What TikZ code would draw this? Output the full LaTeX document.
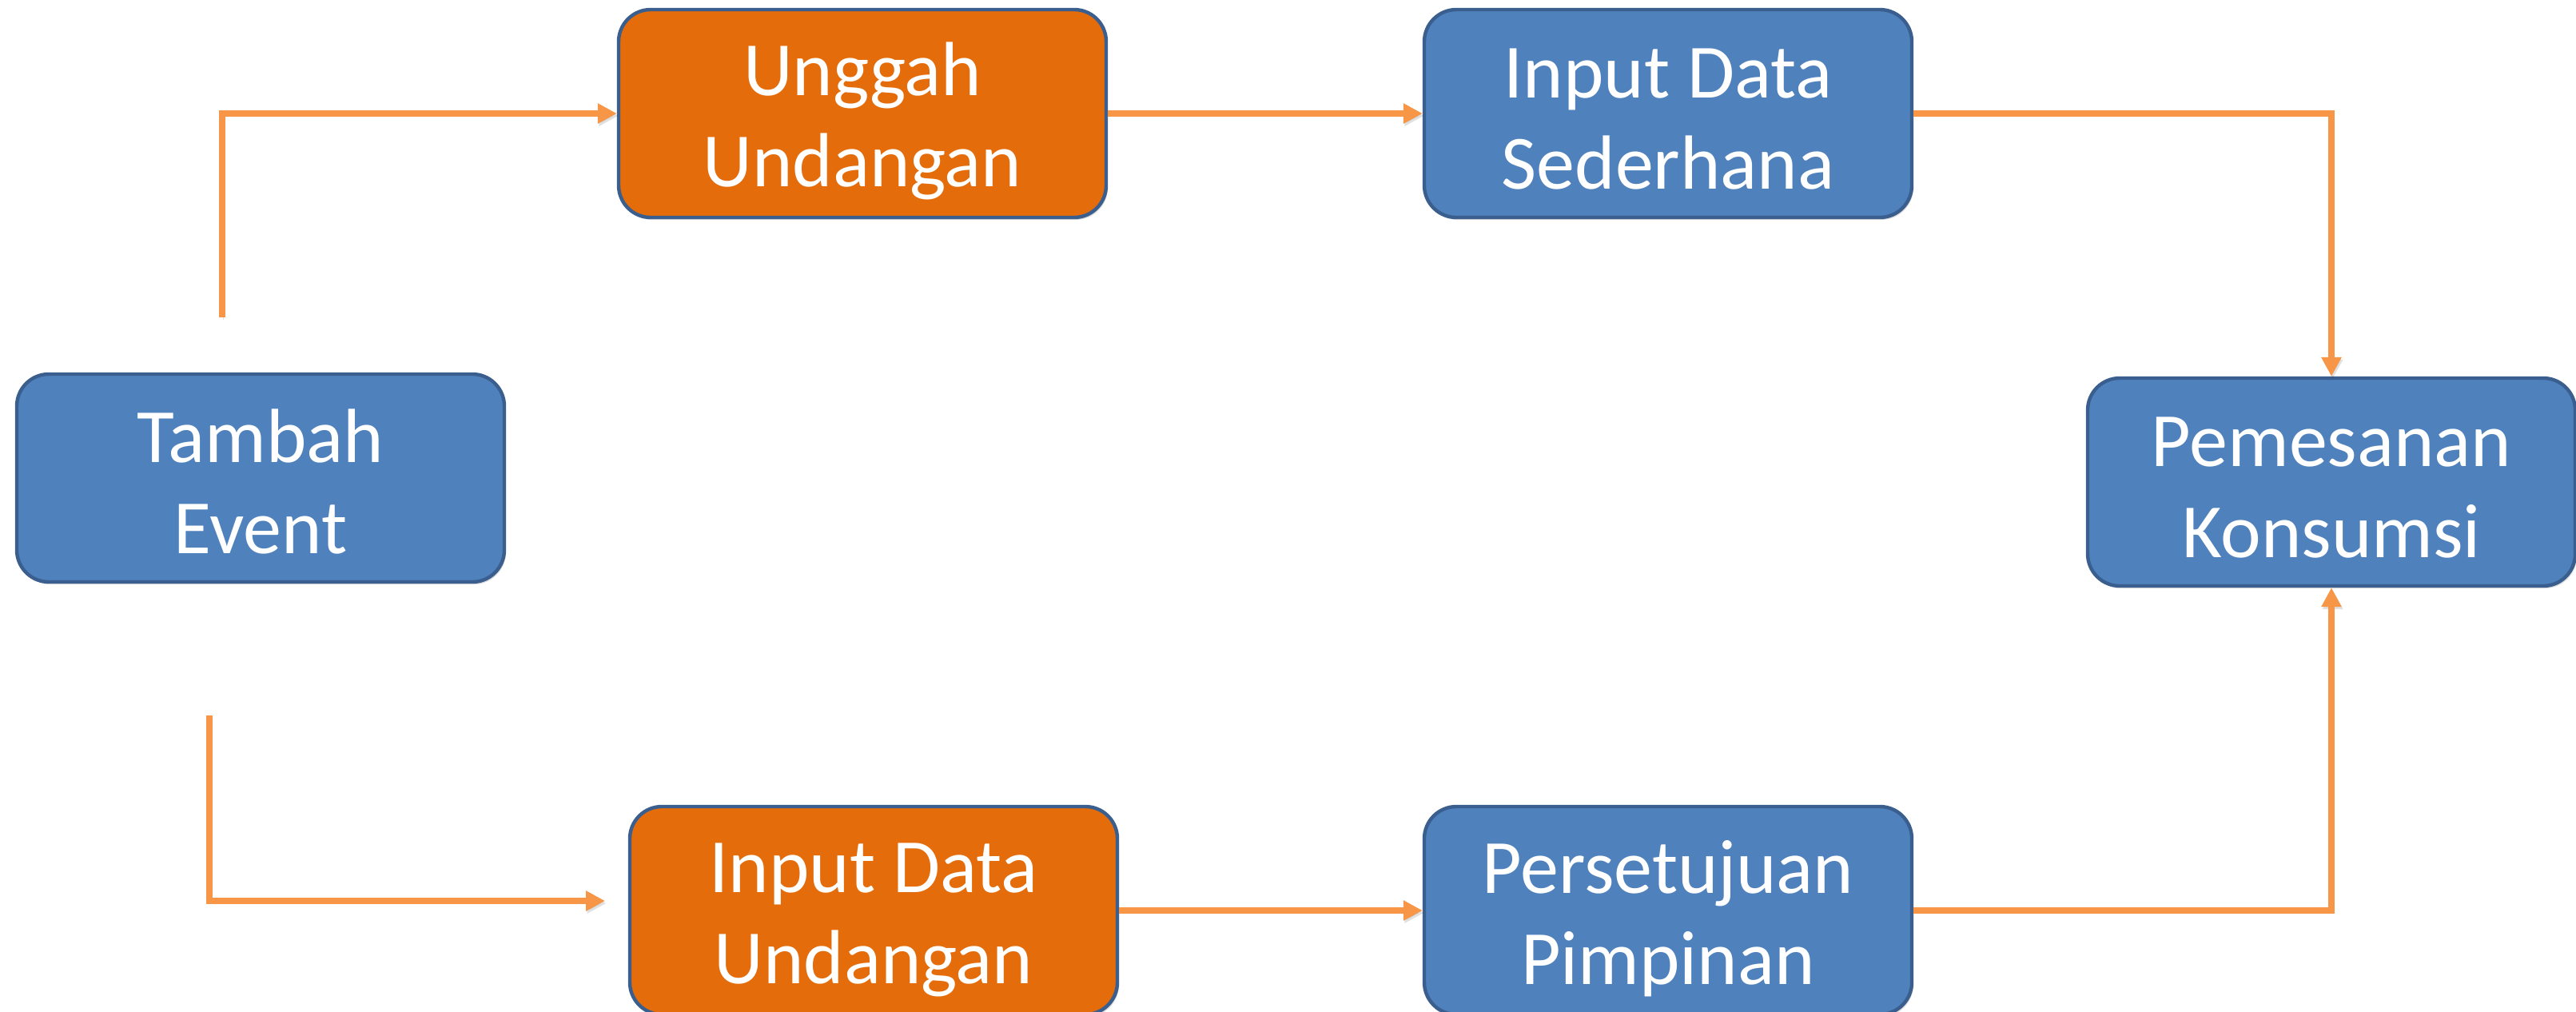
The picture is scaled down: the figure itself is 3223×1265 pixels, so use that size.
\documentclass[tikz,border=0pt]{standalone}
\usepackage{fontspec}
\setmainfont{Carlito}
\usetikzlibrary{arrows.meta,shadows}
\definecolor{boxblue}{HTML}{4F81BD}
\definecolor{boxorange}{HTML}{E46C0A}
\definecolor{boxborder}{HTML}{3A5F8E}
\definecolor{arrcol}{HTML}{F79646}
\newcommand\bxs{\rule[-6pt]{0pt}{49pt}}
\tikzset{
  procbox/.style={draw=boxborder, line width=2.2pt, rounded corners=20pt,
    minimum width=305pt, minimum height=130pt, inner sep=0pt,
    text=white, align=center, font=\fontsize{48pt}{57pt}\selectfont,
    drop shadow={shadow xshift=1pt, shadow yshift=-1.5pt, fill=black, opacity=0.15}},
  bluebox/.style={procbox, fill=boxblue},
  orangebox/.style={procbox, fill=boxorange},
  flow/.style={draw=arrcol, line width=4pt, line join=miter,
    -{Triangle[length=12pt,width=12pt]},
    preaction={draw=black, opacity=0.12, transform canvas={shift={(0.8pt,-1.5pt)}}}}
}
\begin{document}
\begin{tikzpicture}[x=0.5pt,y=-0.5pt]
\useasboundingbox (0,0) rectangle (3223,1265);
\node[bluebox]   (tambah)      at (326,598)   {\bxs Tambah\\\bxs Event};
\node[orangebox] (unggah)      at (1079,142)  {\bxs Unggah\\\bxs Undangan};
\node[bluebox]   (sederhana)   at (2087,142)  {\bxs Input Data\\\bxs Sederhana};
\node[bluebox]   (pemesanan)   at (2917,603)  {\bxs Pemesanan\\\bxs Konsumsi};
\node[orangebox] (undangan)    at (1093,1139) {\bxs Input Data\\\bxs Undangan};
\node[bluebox]   (persetujuan) at (2087,1139) {\bxs Persetujuan\\\bxs Pimpinan};
\coordinate (s1) at (278,397);
\coordinate (s2) at (262,895);
\coordinate (e2) at (757,1127);
\draw[flow] (s1) |- (unggah.west);
\draw[flow] (s2) |- (e2);
\draw[flow] (unggah.east) -- (sederhana.west);
\draw[flow] (sederhana.east) -| (pemesanan.north);
\draw[flow] (undangan.east) -- (persetujuan.west);
\draw[flow] (persetujuan.east) -| (pemesanan.south);
\end{tikzpicture}
\end{document}
